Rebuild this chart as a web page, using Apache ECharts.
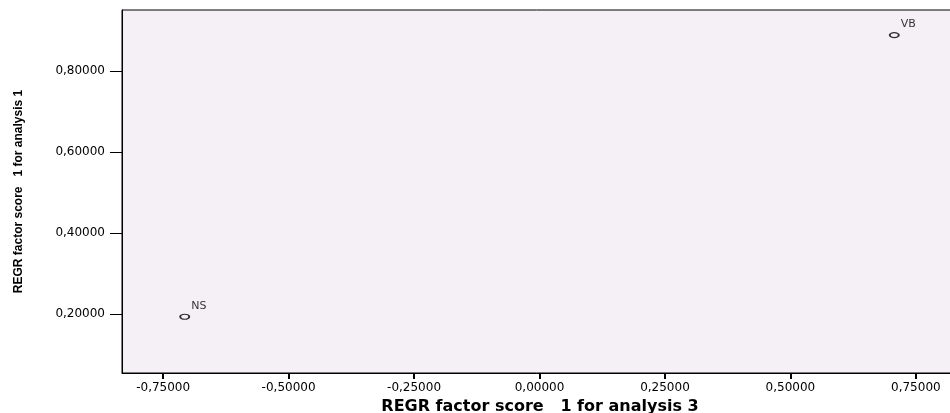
<!DOCTYPE html>
<html><head><meta charset="utf-8">
<script src="https://cdn.jsdelivr.net/npm/echarts@6/dist/echarts.min.js"></script>
<style>html,body{margin:0;padding:0;background:#fff}#c{width:950px;height:413px}</style>
</head><body><div id="c"></div>
<script>
const pointNames = ["NS", "VB"];
const xValues = [-0.707, 0.707];
const yValues = [0.193, 0.889];
const xTicks = [-0.75, -0.5, -0.25, 0, 0.25, 0.5, 0.75];
const yTicks = [0.2, 0.4, 0.6, 0.8];
const xTitle = "REGR factor score   1 for analysis 3";
const yTitle = "REGR factor score   1 for analysis 1";

const fmt = v => v.toFixed(5).replace('.', ',');
const chart = echarts.init(document.getElementById('c'), null, {renderer: 'canvas'});
chart.setOption({
  animation: false,
  backgroundColor: '#ffffff',
  grid: {left: 122, top: 10, bottom: 40, right: -8, show: true, outerBoundsMode: 'none', containLabel: false,
         backgroundColor: '#f5f0f5', borderColor: '#000', borderWidth: 1},
  xAxis: {
    type: 'value', min: -0.832, max: 0.834,
    name: xTitle, nameLocation: 'middle', nameGap: 26,
    nameTextStyle: {fontFamily: 'DejaVu Sans', fontWeight: 'bold', fontSize: 16, color: '#000'},
    axisLine: {show: true, onZero: false, lineStyle: {color: '#000', width: 1}},
    axisTick: {show: true, length: 6, customValues: xTicks, lineStyle: {color: '#000', width: 2}},
    axisLabel: {customValues: xTicks, formatter: fmt, margin: 9,
                fontFamily: 'DejaVu Sans', fontSize: 12, color: '#000'},
    splitLine: {show: false}
  },
  yAxis: {
    type: 'value', min: 0.054, max: 0.951,
    name: yTitle, nameLocation: 'middle', nameGap: 97, nameRotate: 90,
    nameTextStyle: {fontFamily: 'Liberation Sans', fontWeight: 'bold', fontSize: 12, color: '#000'},
    axisLine: {show: true, onZero: false, lineStyle: {color: '#000', width: 1}},
    axisTick: {show: true, length: 12, customValues: yTicks, lineStyle: {color: '#000', width: 1}},
    axisLabel: {customValues: yTicks, formatter: fmt, margin: 17,
                fontFamily: 'DejaVu Sans', fontSize: 12, color: '#000'},
    splitLine: {show: false}
  },
  series: [{
    type: 'scatter',
    data: xValues.map((x, i) => ({value: [x, yValues[i]], name: pointNames[i]})),
    symbol: 'circle', symbolSize: [9, 5],
    itemStyle: {color: 'rgba(0,0,0,0)', borderColor: '#000', borderWidth: 1.5},
    label: {show: true, formatter: p => p.name, position: [12, -13],
            fontFamily: 'DejaVu Sans', fontSize: 11, color: '#000'}
  }]
});
</script></body></html>
